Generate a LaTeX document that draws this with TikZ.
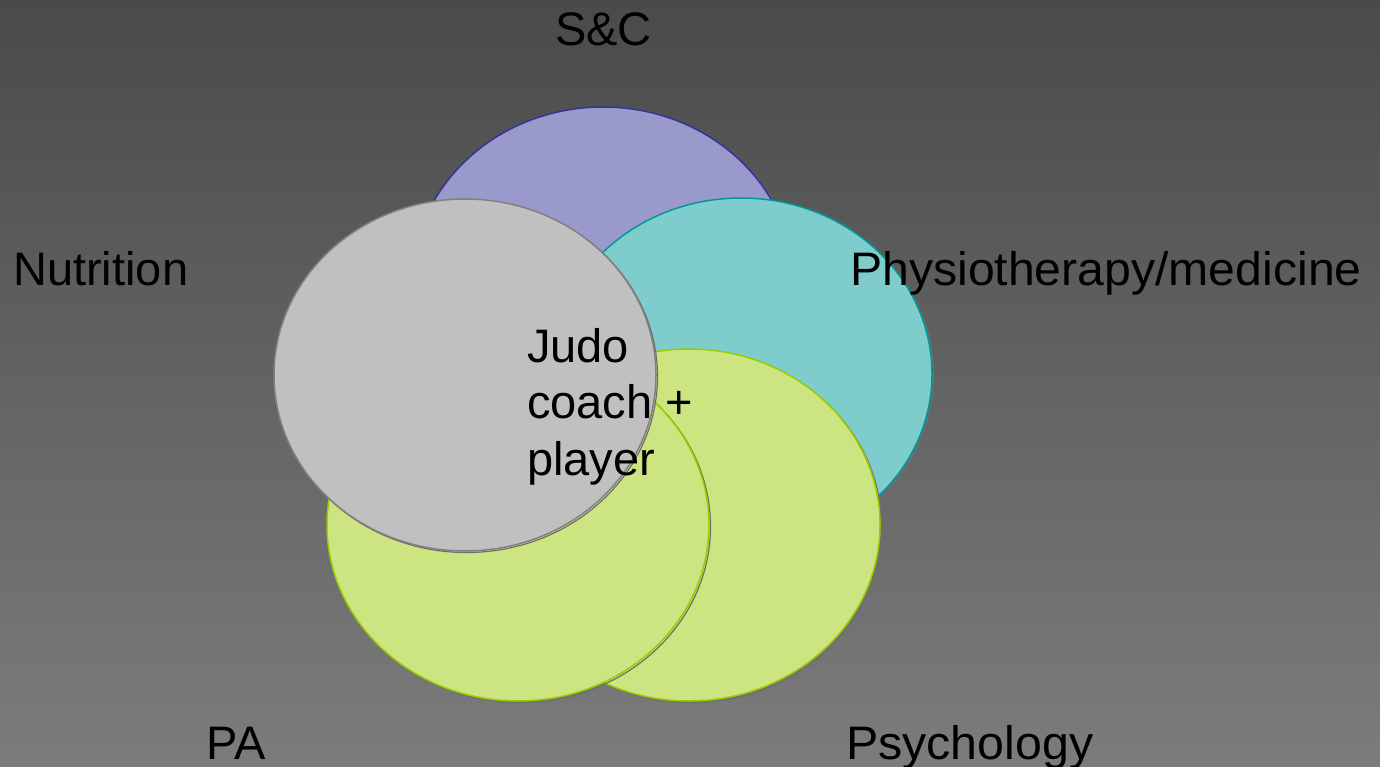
\documentclass[tikz,border=0pt]{standalone}
\usepackage{fontspec}
\setmainfont{Liberation Sans}
\definecolor{bgtop}{RGB}{74,74,74}
\definecolor{bgbot}{RGB}{124,124,124}
\definecolor{purfill}{RGB}{153,153,204}
\definecolor{purline}{RGB}{51,51,153}
\definecolor{tealfill}{RGB}{127,204,204}
\definecolor{tealline}{RGB}{0,153,153}
\definecolor{grnfill}{RGB}{204,229,128}
\definecolor{grnline}{RGB}{153,204,0}
\definecolor{grayfill}{RGB}{192,192,192}
\definecolor{grayline}{RGB}{128,128,128}
\definecolor{shadowline}{RGB}{110,110,110}
\tikzset{
  lbl/.style={anchor=base west, inner sep=0pt, font=\fontsize{47}{57}\selectfont, text=black},
  shadowring/.style={draw=shadowline, line width=1.2pt},
  bubble/.style={line width=1.5pt},
}
\begin{document}
\begin{tikzpicture}[x=1pt,y=-1pt]
\useasboundingbox (0,0) rectangle (1380,767);
\shade[top color=bgtop, bottom color=bgbot] (0,0) rectangle (1380,767);
% S&C
\draw[shadowring] (604.5,284.5) ellipse [x radius=191, y radius=176];
\draw[bubble, fill=purfill, draw=purline] (603,283) ellipse [x radius=191, y radius=176];
% Physiotherapy
\draw[shadowring] (742.5,375.5) ellipse [x radius=191, y radius=176];
\draw[bubble, fill=tealfill, draw=tealline] (741,374) ellipse [x radius=191, y radius=176];
% Psychology
\draw[shadowring] (690.5,526.5) ellipse [x radius=191, y radius=176];
\draw[bubble, fill=grnfill, draw=grnline] (689,525) ellipse [x radius=191, y radius=176];
% PA
\draw[shadowring] (519.5,526.5) ellipse [x radius=191, y radius=176];
\draw[bubble, fill=grnfill, draw=grnline] (518,525) ellipse [x radius=191, y radius=176];
% Nutrition
\draw[shadowring] (466.5,376.5) ellipse [x radius=191, y radius=176];
\draw[bubble, fill=grayfill, draw=grayline] (465,375) ellipse [x radius=191, y radius=176];
% labels
\node[lbl] (sc) at (555,46) {S\&C};
\node[lbl] (nut) at (13,285) {Nutrition};
\node[lbl, xscale=1.025] (phys) at (850,285) {Physiotherapy/medicine};
\node[lbl] (pa) at (206,759) {PA};
\node[lbl, xscale=1.028] (psy) at (846,759) {Psychology};
\node[lbl] (j1) at (527,362) {Judo};
\node[lbl] (j2) at (527,418) {coach +};
\node[lbl] (j3) at (527,475) {player};
\end{tikzpicture}
\end{document}
